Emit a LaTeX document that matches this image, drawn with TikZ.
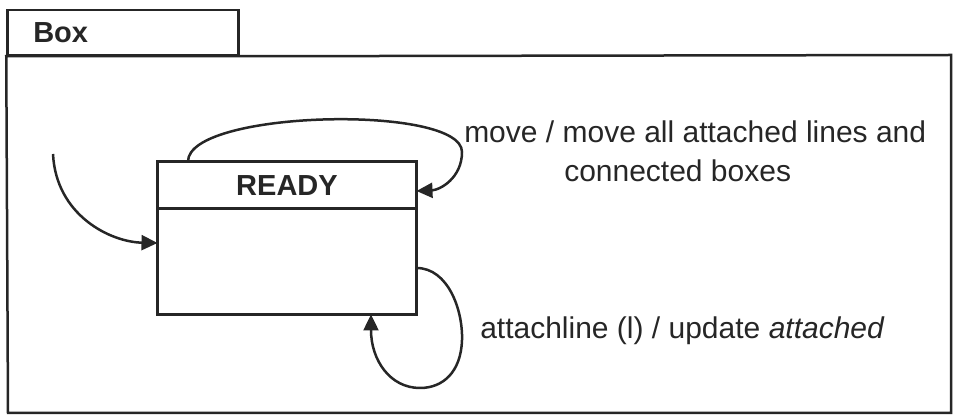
\documentclass[tikz,border=0pt]{standalone}
\usepackage{fontspec}
\setmainfont{Liberation Sans}
\usetikzlibrary{arrows.meta}
\begin{document}
\begin{tikzpicture}[x=1pt,y=-1pt,line width=2.5pt,line join=miter,
  txt/.style={font=\fontsize{30}{36}\selectfont,inner sep=0pt,text=black!85},
  bold/.style={font=\fontsize{29}{34}\selectfont\bfseries,inner sep=0pt,text=black!85},
  frame/.style={draw=black!85},
  tip/.style={-{Triangle[length=16pt,width=15pt]},draw=black!85}]
\useasboundingbox (0,0) rectangle (954,419);
% package frame with tab
\node[frame,minimum width=231pt,minimum height=45pt,inner sep=0pt] (tab) at (123,32.5) {};
\node[bold,anchor=west] (boxlbl) at (32,33) {Box};
\coordinate (fne) at (951,55);
\coordinate (fse) at (951,413);
\coordinate (fsw) at (8,413);
\draw[frame] (tab.south west) -- (tab.south east) -- (fne) -- (fse) -- (fsw) -- cycle;
% state
\node[frame,minimum width=259pt,minimum height=153pt,inner sep=0pt] (ready) at (287,238) {};
\coordinate (divl) at (157.5,208.5);
\coordinate (divr) at (416.5,208.5);
\draw[frame] (divl) -- (divr);
\node[bold] (readylbl) at (287,186) {READY};
% initial transition
\coordinate (init) at (53,154);
\coordinate (initend) at (157.5,243);
\draw[tip] (init) .. controls (56,215) and (110,242) .. (initend);
% move self-transition
\coordinate (mstart) at (188,161.5);
\coordinate (mend) at (416.5,191);
\draw[tip] (mstart) .. controls (188,110) and (462,104) .. (462,152) .. controls (462,178) and (440,190) .. (mend);
% attachline self-transition
\coordinate (astart) at (416.5,268);
\coordinate (aend) at (371,314.5);
\draw[tip] (astart) .. controls (448,268) and (463,310) .. (462,340) .. controls (461,372) and (443,388) .. (420,388) .. controls (390,388) and (371,360) .. (aend);
% labels
\node[txt,anchor=base west] (l1) at (463,143) {move / move all attached lines and};
\node[txt,anchor=base west] (l2) at (563,182) {connected boxes};
\node[txt,anchor=base west] (l3) at (479,339) {attachline (l) / update \textit{attached}};
\end{tikzpicture}
\end{document}
